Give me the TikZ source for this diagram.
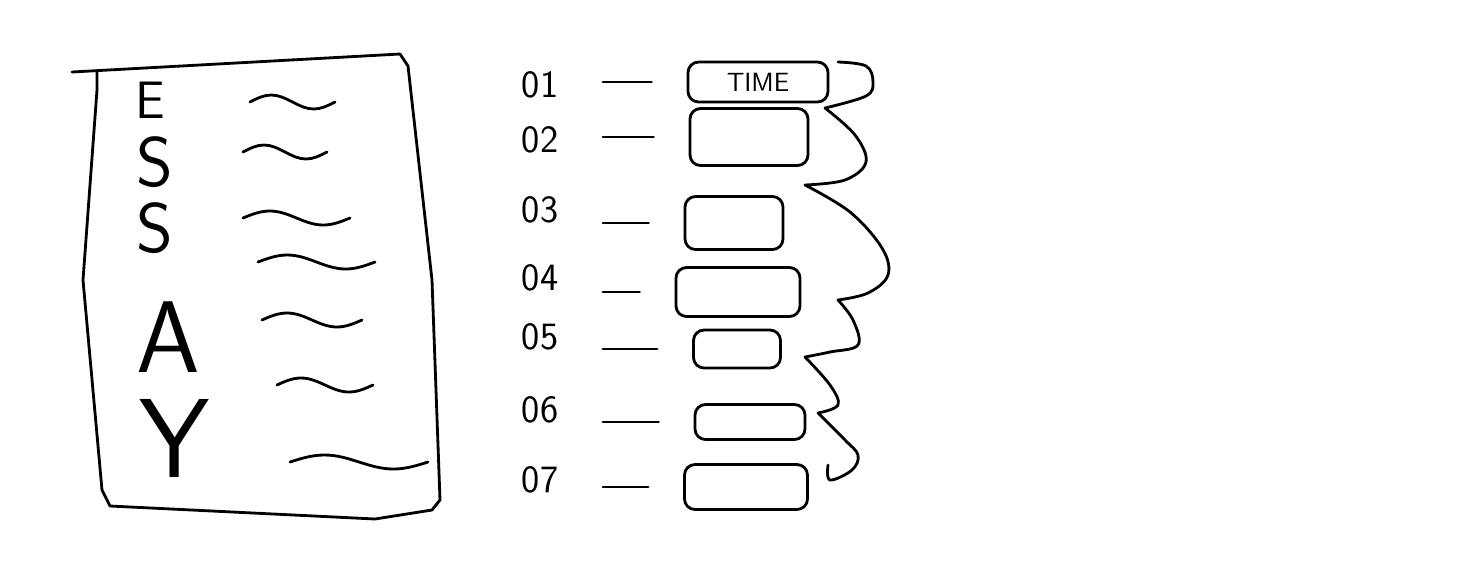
\documentclass[tikz,border=0pt]{standalone}
\usetikzlibrary{positioning}

\begin{document}
\begin{tikzpicture}[x=0.02cm,y=-0.02cm,line width=1.6pt,line cap=round,line join=round,
		num/.style={font=\sffamily\fontsize{22}{22}\selectfont},
		slot/.style={draw,rounded corners=6pt,inner sep=0pt},
		link/.style={shorten <=0.75cm,shorten >=0.7cm}]
	\useasboundingbox (0,0) rectangle (1472,566);

	% the sheet
	\draw (72,72) -- (400,54) -- (408,66) -- (432,280) -- (440,500) -- (432,510) -- (375,519)
		-- (110,506) -- (102,490) -- (83,280) -- (97,90) -- (97,72);

	\foreach \l/\x/\y/\s [count=\n] in {E/150/100/30, S/155/162/40, S/155/228/40, A/168/337/58, Y/175/438/64}
		\node[font=\sffamily\fontsize{\s}{\s}\selectfont] (C\n) at (\x,\y) {\l};

	\foreach \x/\y/\l in {250/102/85, 243/152/84, 243/218/107, 258/262/117, 262/320/100, 277/385/96, 290/462/138}
		\draw (\x,\y) sin ++(\l/4,-7) cos ++(\l/4,7) sin ++(\l/4,7) cos ++(\l/4,-7);

	% numbered slots
	\foreach \t/\y [count=\n] in {01/85,02/140,03/210,04/278,05/337,06/410,07/480}
		\node[num] (L\n) at (540,\y) {\t};

	\foreach \x/\y/\w/\h [count=\n] in {758/82/140/40, 749/137/118/57, 734/223/98/53, 738/292/124/49, 737/349/87/38, 750/422/110/35, 746/487/123/45}
		\node[slot,minimum width=\w*0.02cm,minimum height=\h*0.02cm] (B\n) at (\x,\y) {};

	\node[font=\sffamily\fontsize{15}{15}\selectfont] (T) at (B1) {TIME};

	\foreach \n in {1,...,7}
		\draw[link] (L\n.east |- B\n.west) -- (B\n.west);

	\draw plot[smooth,tension=0.6] coordinates {(838,62) (866,66) (873,82) (866,96) (825,108)}
		-- plot[smooth,tension=0.6] coordinates {(825,108) (855,135) (866,162) (845,180) (805,185)}
		-- plot[smooth,tension=0.6] coordinates {(805,185) (850,212) (882,248) (888,275) (868,293) (838,300)}
		-- plot[smooth,tension=0.6] coordinates {(838,300) (853,320) (858,345) (830,352) (805,357)}
		-- plot[smooth,tension=0.6] coordinates {(805,357) (830,385) (838,405) (818,413)}
		-- plot[smooth,tension=0.6] coordinates {(818,413) (845,440) (858,455) (852,470) (830,480) (828,465)};
\end{tikzpicture}
\end{document}
